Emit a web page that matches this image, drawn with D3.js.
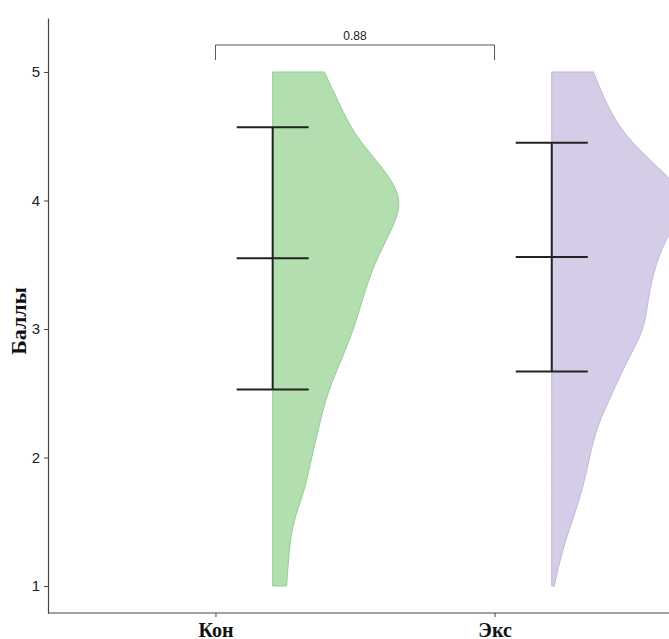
<!DOCTYPE html>
<html>
<head>
<meta charset="utf-8">
<script src="https://cdn.jsdelivr.net/npm/d3@7"></script>
<style>
  body { margin: 0; background: #fff; }
  svg { display: block; }
</style>
</head>
<body>
<div id="chart"></div>
<script>
{
// groups on the x axis
const groups = ["Кон", "Экс"];

// density grid (score values) and half-violin densities (relative)
const gridValues = [1, 1.25, 1.5, 1.75, 2, 2.25, 2.5, 2.75, 3, 3.25, 3.5, 3.75, 4, 4.25, 4.5, 4.75, 5];
const densityKon = [0.11, 0.13, 0.17, 0.25, 0.31, 0.37, 0.44, 0.54, 0.64, 0.72, 0.81, 0.93, 1.00, 0.87, 0.67, 0.53, 0.41];
const densityEks = [0.02, 0.08, 0.16, 0.24, 0.30, 0.37, 0.48, 0.60, 0.72, 0.77, 0.83, 0.94, 1.04, 0.85, 0.60, 0.44, 0.33];

// mean and mean +/- sd
const means = [3.55, 3.56];
const lowers = [2.53, 2.67];
const uppers = [4.57, 4.45];

const yTicks = [1, 2, 3, 4, 5];
const pLabel = "0.88";

const fills = ["#b3deb0", "#d5cde7"];
const strokes = ["#8fd08c", "#c2b5de"];

const width = 669, height = 639;

const svg = d3.select("#chart")
    .append("svg")
    .attr("width", width)
    .attr("height", height);

const y = d3.scaleLinear()
    .domain([0.79, 5.42])
    .range([613, 18]);

const x = d3.scalePoint()
    .domain(groups)
    .range([48, 662])
    .padding(0.6);

// violin width and offset of the violin / error bar from the group centre
const wScale = d3.scaleLinear().domain([0, 1]).range([0, 126]);
const dodge = x.step() * 0.205;

const densities = [densityKon, densityEks];

// half violins
groups.forEach(function(g, i) {
    const base = x(g) + dodge;
    const pts = gridValues.map(function(v, j) { return {v: v, d: densities[i][j]}; });
    const area = d3.area()
        .y(function(d) { return y(d.v); })
        .x0(base)
        .x1(function(d) { return base + wScale(d.d); })
        .curve(d3.curveNatural);
    svg.append("path")
        .datum(pts)
        .attr("d", area)
        .attr("fill", fills[i])
        .attr("stroke", strokes[i])
        .attr("stroke-width", 1);
});

// error bars
const capHalf = 36;
groups.forEach(function(g, i) {
    const cx = x(g) + dodge;
    const eb = svg.append("g")
        .attr("stroke", "#222")
        .attr("stroke-width", 2);
    eb.append("line")
        .attr("x1", cx).attr("x2", cx)
        .attr("y1", y(uppers[i])).attr("y2", y(lowers[i]));
    [uppers[i], means[i], lowers[i]].forEach(function(v) {
        eb.append("line")
            .attr("x1", cx - capHalf).attr("x2", cx + capHalf)
            .attr("y1", y(v)).attr("y2", y(v));
    });
});

// y axis
const yAxis = svg.append("g")
    .attr("transform", "translate(48,0)")
    .call(d3.axisLeft(y).tickValues(yTicks).tickFormat(d3.format("d"))
        .tickSize(4).tickPadding(4).tickSizeOuter(0));
yAxis.select(".domain").attr("stroke", "#444").attr("stroke-width", 1.2);
yAxis.selectAll(".tick line").attr("stroke", "#444");
yAxis.selectAll(".tick text")
    .attr("fill", "#222")
    .style("font-family", "Liberation Sans, Arial, sans-serif")
    .style("font-size", "15px");

// x axis
const xAxis = svg.append("g")
    .attr("transform", "translate(0,613)")
    .call(d3.axisBottom(x).tickSize(4).tickPadding(6).tickSizeOuter(0));
xAxis.select(".domain").remove();
xAxis.append("line")
    .attr("x1", 48).attr("x2", width)
    .attr("y1", 0).attr("y2", 0)
    .attr("stroke", "#444")
    .attr("stroke-width", 1.2);
xAxis.selectAll(".tick line").attr("stroke", "#444");
xAxis.selectAll(".tick text")
    .attr("fill", "#111")
    .style("font-family", "Liberation Serif, Times New Roman, serif")
    .style("font-weight", "bold")
    .style("font-size", "20px");

// y axis title
svg.append("text")
    .attr("transform", "translate(26,321) rotate(-90)")
    .attr("text-anchor", "middle")
    .style("font-family", "Liberation Serif, Times New Roman, serif")
    .style("font-weight", "bold")
    .style("font-size", "22px")
    .attr("fill", "#111")
    .text("Баллы");

// significance bracket
const bY = 45, bLeg = 15;
const x1 = x(groups[0]), x2 = x(groups[1]);
svg.append("path")
    .attr("d", `M${x1},${bY + bLeg}V${bY}H${x2}V${bY + bLeg}`)
    .attr("fill", "none")
    .attr("stroke", "#555")
    .attr("stroke-width", 1);
svg.append("text")
    .attr("x", (x1 + x2) / 2)
    .attr("y", bY - 5)
    .attr("text-anchor", "middle")
    .style("font-family", "Liberation Sans, Arial, sans-serif")
    .style("font-size", "12px")
    .attr("fill", "#222")
    .text(pLabel);
}
</script>
</body>
</html>
